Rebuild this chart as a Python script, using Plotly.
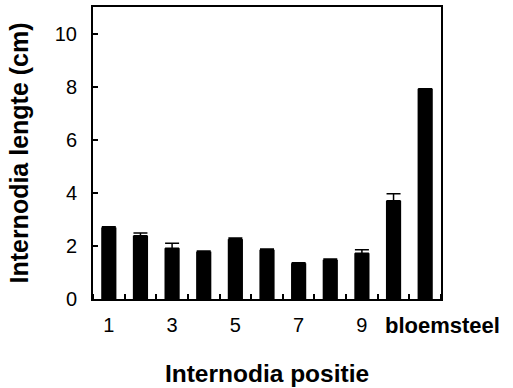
import plotly.graph_objects as go

categories = ["1", "2", "3", "4", "5", "6", "7", "8", "9", "10", "bloemsteel"]
lengths = [2.70, 2.39, 1.92, 1.79, 2.26, 1.86, 1.35, 1.48, 1.73, 3.71, 7.94]
errors = [0.03, 0.10, 0.19, 0.02, 0.04, 0.03, 0.02, 0.03, 0.13, 0.27, 0.0]
x_labels = ["1", "", "3", "", "5", "", "7", "", "9", "", ""]
y_ticks = [0, 2, 4, 6, 8, 10]

xpos = list(range(1, len(categories) + 1))

fig = go.Figure()
fig.add_trace(go.Bar(
    x=xpos, y=lengths, width=0.48,
    marker=dict(color="black", line=dict(width=0)),
    error_y=dict(type="data", array=errors, arrayminus=[0] * len(errors),
                 symmetric=False, color="black", thickness=1.5, width=7),
))

fig.add_annotation(
    x=xpos[-1], y=0, xref="x", yref="y", yanchor="top", xanchor="center",
    xshift=17, yshift=-12, showarrow=False,
    text="<b>" + categories[-1] + "</b>",
    font=dict(family="Liberation Sans", size=22, color="black"),
)

fig.update_layout(
    width=513, height=388,
    margin=dict(l=93, r=72, t=7, b=89, autoexpand=False),
    paper_bgcolor="white", plot_bgcolor="white",
    showlegend=False,
    font=dict(family="Liberation Sans", color="black"),
    xaxis=dict(
        range=[0.5, len(categories) + 0.5],
        tickmode="array", tickvals=xpos, ticktext=x_labels,
        ticks="", ticklabelstandoff=7,
        tickfont=dict(size=20),
        minor=dict(tickmode="linear", tick0=0.5, dtick=1, ticks="inside",
                   ticklen=5, tickwidth=1.5, tickcolor="black"),
        showline=True, linecolor="black", linewidth=2, mirror=True,
        showgrid=False, zeroline=False, automargin=False,
        title=dict(text="<b>Internodia positie</b>", font=dict(size=24.5), standoff=30),
    ),
    yaxis=dict(
        range=[0, 11.03],
        tickmode="array", tickvals=y_ticks,
        ticks="inside", ticklen=5, tickwidth=1.5, tickcolor="black",
        ticklabelstandoff=10,
        tickfont=dict(size=20),
        showline=True, linecolor="black", linewidth=2, mirror=True,
        showgrid=False, zeroline=False, automargin=False,
        title=dict(text="<b>Internodia lengte (cm)</b>", font=dict(size=25), standoff=19),
    ),
)

fig.write_html("out.html")
